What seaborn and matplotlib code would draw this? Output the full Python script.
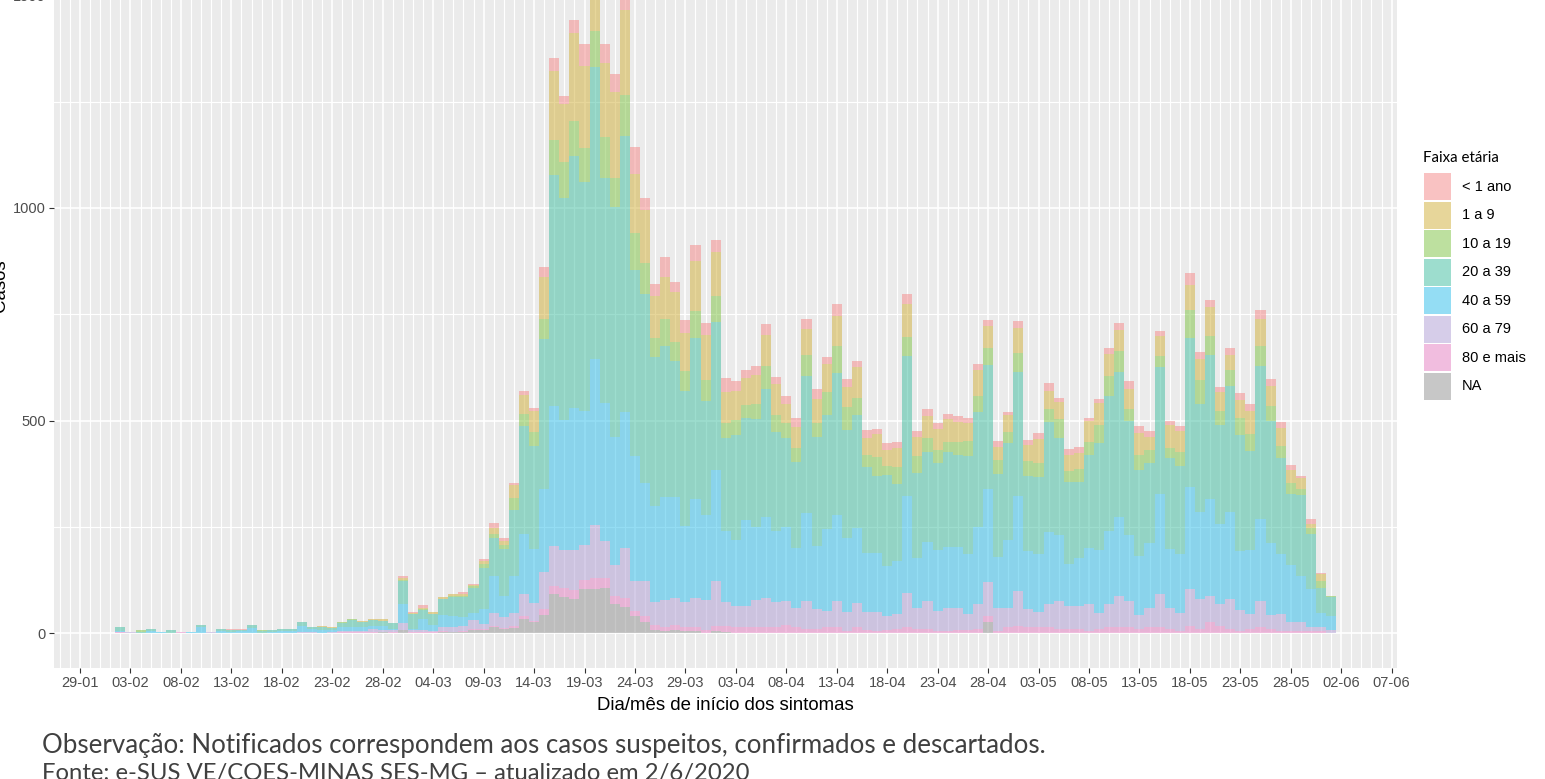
import matplotlib
matplotlib.use('Agg')
import matplotlib.pyplot as plt
from matplotlib.patches import Rectangle
import seaborn as sns
import numpy as np
import pandas as pd

# faixas etárias (a primeira fica no topo da pilha, como no ggplot)
faixas = ['< 1 ano', '1 a 9', '10 a 19', '20 a 39', '40 a 59', '60 a 79', '80 e mais', 'NA']
cores = ['#F58787', '#D1AF37', '#7DC341', '#3DBD9F', '#2BBDEB', '#AF9DD5', '#E57DC1', '#919191']
transp = 0.5

origem = pd.Timestamp('2020-01-29')   # primeiro rótulo do eixo x
inicio = pd.Timestamp('2020-02-02')   # primeiro dia com casos (02/02 a 01/06)

# casos por dia de início dos sintomas, uma lista por faixa etária
menor_1 = ([0, 0, 0, 0, 0, 0, 0, 0, 0, 0, 0, 1, 2, 0, 0, 0, 0, 0, 0, 0, 0, 0, 0, 0, 0, 0, 0, 0]
           + [5, 2, 5, 0, 1, 1, 4, 1, 3, 10, 8, 6, 9, 6, 22, 31, 19, 31, 51, 35, 46, 42, 22, 62, 29, 29, 47, 25, 30, 36, 29]
           + [27, 35, 23, 19, 21, 26, 16, 20, 20, 23, 23, 17, 28, 19, 16, 18, 12, 18, 13, 22, 14, 16, 13, 12, 13, 13, 12, 13, 13, 8]
           + [16, 12, 14, 20, 9, 12, 14, 9, 8, 13, 16, 19, 18, 14, 12, 9, 13, 30, 16, 16, 11, 16, 15, 16, 20, 16, 14, 12, 5, 12, 2]
           + [0])
de_1_a_9 = ([0] * 20 + [3, 2, 0, 1, 2, 2, 4, 0]
            + [4, 2, 4, 4, 3, 5, 6, 4, 8, 16, 8, 31, 45, 51, 98, 162, 135, 207, 193, 180, 174, 203, 201, 139, 124, 98, 100, 117, 90, 118, 105]
            + [105, 72, 67, 65, 69, 74, 72, 45, 49, 63, 57, 65, 71, 47, 73, 39, 55, 37, 45, 78, 45, 50, 49, 53, 48, 43, 62, 53, 30, 39]
            + [59, 39, 55, 42, 41, 38, 39, 48, 53, 53, 49, 47, 51, 31, 47, 55, 48, 59, 49, 69, 44, 35, 43, 53, 65, 46, 43, 31, 24, 11, 17]
            + [0])
de_10_a_19 = ([0, 0, 3, 0, 0, 0, 0, 0, 0, 0, 0, 0, 0, 0, 2, 0, 0, 0, 0, 0, 0, 0, 1, 1, 1, 1, 1, 0]
              + [2, 1, 1, 1, 1, 1, 2, 3, 8, 9, 10, 27, 28, 31, 49, 82, 86, 81, 81, 85, 96, 68, 97, 88, 74, 46, 63, 46, 46, 65, 49]
              + [61, 35, 37, 31, 35, 53, 41, 35, 34, 48, 31, 54, 63, 53, 39, 30, 43, 22, 41, 45, 39, 34, 31, 23, 30, 35, 38, 39, 35, 26]
              + [43, 35, 34, 30, 45, 27, 30, 31, 43, 46, 51, 30, 35, 31, 26, 23, 35, 66, 58, 44, 33, 39, 41, 41, 47, 35, 27, 26, 16, 14, 16]
              + [4])
de_20_a_39 = ([10, 0, 3, 5, 0, 5, 0, 0, 4, 0, 5, 5, 4, 7, 4, 3, 5, 6, 10, 6, 6, 3, 11, 17, 13, 13, 12, 13]
              + [55, 34, 23, 25, 37, 46, 47, 59, 98, 89, 110, 155, 254, 243, 352, 545, 521, 593, 539, 688, 529, 541, 649, 437, 443, 350, 354, 319, 318, 378, 269]
              + [348, 218, 246, 240, 254, 302, 233, 209, 201, 323, 258, 270, 335, 255, 266, 201, 181, 213, 181, 330, 201, 212, 205, 224, 216, 230, 270, 293, 194, 229]
              + [293, 176, 181, 259, 228, 193, 179, 220, 250, 317, 340, 267, 203, 189, 297, 215, 207, 350, 254, 338, 234, 297, 273, 232, 359, 289, 227, 166, 190, 129, 59]
              + [45])
de_40_a_59 = ([3, 0, 0, 5, 3, 1, 0, 2, 14, 0, 3, 3, 4, 12, 0, 3, 4, 4, 14, 7, 7, 6, 8, 9, 8, 8, 8, 4]
              + [45, 4, 24, 14, 30, 24, 21, 18, 34, 86, 51, 89, 141, 128, 195, 329, 306, 335, 314, 391, 325, 301, 320, 295, 232, 225, 244, 237, 178, 232, 200]
              + [261, 167, 156, 202, 173, 190, 168, 174, 142, 207, 148, 192, 202, 173, 177, 139, 139, 117, 125, 227, 116, 139, 143, 143, 143, 141, 182, 219, 119, 158]
              + [223, 137, 137, 170, 155, 98, 112, 131, 148, 173, 185, 155, 139, 151, 236, 137, 137, 240, 205, 230, 188, 205, 139, 152, 193, 169, 141, 134, 107, 90, 35]
              + [33])
de_60_a_79 = ([0, 2, 0, 0, 0, 0, 0, 0, 0, 2, 1, 0, 0, 0, 0, 0, 0, 0, 2, 2, 0, 1, 3, 3, 3, 6, 5, 4]
              + [16, 4, 5, 3, 9, 12, 12, 21, 13, 31, 25, 29, 51, 41, 88, 94, 91, 93, 84, 124, 87, 75, 117, 71, 83, 56, 62, 63, 59, 68, 71]
              + [105, 58, 48, 48, 62, 68, 59, 57, 44, 66, 47, 37, 62, 45, 55, 43, 45, 34, 35, 82, 51, 66, 47, 55, 52, 37, 59, 78, 55, 47]
              + [82, 43, 34, 55, 66, 55, 55, 63, 39, 55, 73, 63, 33, 47, 77, 51, 43, 86, 70, 61, 51, 70, 48, 35, 61, 33, 39, 22, 22, 8, 8]
              + [5])
mais_80 = ([2, 0, 0, 0, 0, 0, 2, 0, 0, 0, 0, 0, 0, 0, 0, 0, 1, 0, 0, 0, 0, 1, 2, 2, 1, 2, 1, 1]
           + [0, 1, 2, 1, 1, 1, 2, 2, 2, 4, 2, 6, 8, 4, 14, 19, 20, 22, 20, 25, 22, 18, 21, 10, 12, 10, 10, 13, 10, 10, 7]
           + [12, 14, 15, 15, 15, 15, 13, 18, 15, 9, 9, 15, 13, 5, 15, 7, 5, 7, 9, 13, 9, 9, 5, 5, 8, 8, 9, 16, 5, 13]
           + [17, 13, 15, 13, 9, 9, 9, 5, 9, 13, 15, 13, 9, 13, 15, 9, 5, 17, 9, 25, 17, 9, 5, 9, 15, 9, 5, 5, 5, 5, 5]
           + [1])
sem_info = ([0] * 24 + [1, 1, 2, 1]
            + [7, 1, 1, 1, 3, 2, 2, 7, 7, 13, 10, 11, 33, 25, 42, 91, 85, 80, 104, 104, 107, 68, 62, 41, 27, 8, 5, 7, 5, 5, 0]
            + [5, 2] + [0] * 25 + [25, 0, 0]
            + [0] * 31
            + [0])

series = [menor_1, de_1_a_9, de_10_a_19, de_20_a_39, de_40_a_59, de_60_a_79, mais_80, sem_info]

datas = pd.date_range(inicio, periods=len(menor_1), freq='D')
dia = (datas - origem).days.values

# formato longo para o seaborn
partes = []
for faixa, valores in zip(faixas, series):
    partes.append(pd.DataFrame({'dia': dia, 'casos': valores, 'faixa': faixa}))
df = pd.concat(partes, ignore_index=True)

total_max = np.array(series).sum(axis=0).max()

plt.rcParams['font.family'] = ['Liberation Sans', 'DejaVu Sans']

W, H = 1545, 779
fig = plt.figure(figsize=(W / 100, H / 100), dpi=100)
# painel mais alto que a figura: o topo fica cortado como na imagem original
ax = fig.add_axes([54 / W, 111.3 / H, 1343 / W, 763 / H])
ax.set_facecolor('#EBEBEB')

sns.histplot(data=df, x='dia', weights='casos', hue='faixa', hue_order=faixas,
             palette=dict(zip(faixas, cores)), multiple='stack', discrete=True,
             shrink=1, alpha=transp, linewidth=0, legend=False, ax=ax)

ax.set_xlim(-2.58, 130.53)
ax.set_ylim(-0.05 * total_max, 1.05 * total_max)

ticks_x = np.arange(0, 131, 5)
rotulos_x = pd.date_range(origem, periods=len(ticks_x), freq='5D').strftime('%d-%m')
ax.set_xticks(ticks_x)
ax.set_xticklabels(rotulos_x)
ax.set_xticks(np.arange(-2, 131, 1), minor=True)
ax.set_yticks([0, 500, 1000, 1500])
ax.set_yticks([250, 750, 1250], minor=True)

ax.set_axisbelow(True)
ax.grid(which='major', color='white', linewidth=1.2)
ax.grid(which='minor', color='white', linewidth=0.8)
for s in ax.spines.values():
    s.set_visible(False)
ax.tick_params(which='major', length=3.5, width=0.8, color='#333333',
               labelsize=10.5, labelcolor='#4D4D4D', pad=2.5)
ax.tick_params(which='minor', length=0)
ax.set_xlabel('')
ax.set_ylabel('')

fig.text(9 / W, 1 - 286 / H, 'Casos', rotation=90, ha='right', va='center',
         fontsize=13.4, color='black')
fig.text(725.5 / W, 1 - 706 / H, 'Dia/mês de início dos sintomas', ha='center',
         va='center', fontsize=13.4, color='black')

# legenda desenhada à mão (chaves quadradas como no ggplot)
fig.text(1423 / W, 1 - 158 / H, 'Faixa etária', family='Lato', fontsize=10.8,
         color='black', ha='left', va='center')
for i, (faixa, cor) in enumerate(zip(faixas, cores)):
    topo = 173.3 + 28.5 * i
    fig.add_artist(Rectangle((1424 / W, 1 - (topo + 26.7) / H), 26.7 / W, 26.7 / H,
                             transform=fig.transFigure, facecolor=cor, alpha=transp,
                             edgecolor='none'))
    fig.text(1462 / W, 1 - (topo + 13.3) / H, faixa, fontsize=10.5, color='black',
             ha='left', va='center')

fig.text(42 / W, 1 - 745 / H,
         'Observação: Notificados correspondem aos casos suspeitos, confirmados e descartados.',
         family='Lato', fontsize=18.6, color='#404040', ha='left', va='center')
fig.text(42 / W, 1 - 763 / H,
         'Fonte: e-SUS VE/COES-MINAS SES-MG – atualizado em 2/6/2020',
         family='Lato', fontsize=17.2, color='#404040', ha='left', va='top')

fig.savefig('out.png', dpi=100)
